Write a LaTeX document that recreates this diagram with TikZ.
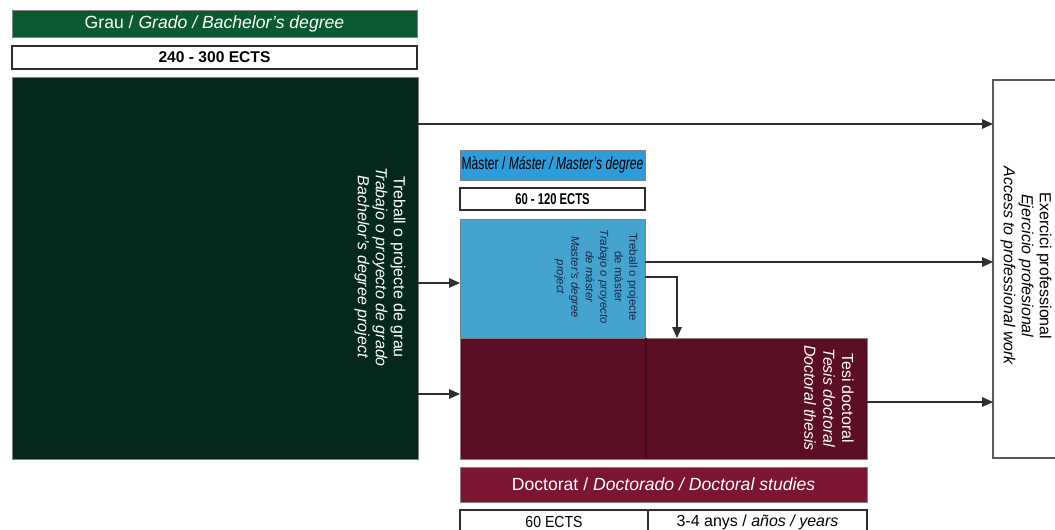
\documentclass[tikz,border=0pt]{standalone}
\usepackage{fontspec}
\setmainfont{Liberation Sans}
\usetikzlibrary{arrows.meta,fit}
\definecolor{grauhd}{HTML}{0C5A32}
\definecolor{graubk}{HTML}{04281A}
\definecolor{masthd}{HTML}{2C9CDB}
\definecolor{mastbk}{HTML}{45A4CF}
\definecolor{docbk}{HTML}{5B0E24}
\definecolor{dochd}{HTML}{7C1532}
\definecolor{ink}{HTML}{2E2E2E}
\definecolor{navy}{HTML}{1B2547}
\begin{document}
\begin{tikzpicture}[x=0.5pt,y=-0.5pt,
    blk/.style={inner sep=0pt,outer sep=0pt,draw=ink!60,line width=0.4pt},
    cred/.style={blk,draw=ink,line width=0.6pt,fill=white},
    hdtxt/.style={text=white,inner sep=0pt,font=\fontsize{8.8}{10}\selectfont},
    credtxt/.style={inner sep=0pt,font=\fontsize{7.8}{9}\selectfont\bfseries},
    lab/.style={text=white,align=center,rotate=-90,font=\fontsize{8}{9}\selectfont},
    arr/.style={draw=ink,line width=0.6pt,-{Triangle[length=5.5pt,width=4.8pt]}}]
  \clip (0,0) rectangle (1055,530);
  \fill[white] (0,0) rectangle (1055,530);
  % grau
  \node[blk,fill=grauhd,fit={(12,10)(417,37)}] (grauhd) {};
  \node[hdtxt] (grauhdt) at (grauhd) {Grau / \textit{Grado / Bachelor's degree}};
  \node[cred,fit={(12,46)(417,69)}] (graucr) {};
  \node[credtxt] (graucrt) at (graucr) {240 - 300 ECTS};
  \node[blk,fill=graubk,fit={(12,77)(418,459)}] (graubk) {};
  \node[lab] (graulab) at (380,267) {Treball o projecte de grau\\\textit{Trabajo o proyecto de grado}\\\textit{Bachelor's degree project}};
  % master
  \node[blk,fill=masthd,fit={(460,150)(645,180)}] (masthd) {};
  \node[hdtxt,text=black] (masthdt) at (masthd) {\scalebox{0.69}[1]{Màster / \textit{Máster / Master's degree}}};
  \node[cred,fit={(460,188)(645,210)}] (mastcr) {};
  \node[credtxt] (mastcrt) at (mastcr) {\scalebox{0.72}[1]{60 - 120 ECTS}};
  \node[blk,fill=mastbk,fit={(460,219)(645,338)}] (mastbk) {};
  \node[lab,text=navy,font=\fontsize{5.7}{7.25}\selectfont] (mastlab) at (596,277) {Treball o projecte\\de màster\\\textit{Trabajo o proyecto}\\\textit{de máster}\\\textit{Master's degree}\\\textit{project}};
  % doctorat
  \node[blk,fill=docbk,fit={(460,338)(867,459)}] (docbk) {};
  \draw[docbk!70!black,line width=0.6pt] (646,338) -- (646,459);
  \node[lab,font=\fontsize{8}{9.4}\selectfont] (doclab) at (829,398) {Tesi doctoral\\\textit{Tesis doctoral}\\\textit{Doctoral thesis}};
  \node[blk,fill=dochd,fit={(460,467)(867,502)}] (dochd) {};
  \node[hdtxt] (dochdt) at (dochd) {Doctorat / \textit{Doctorado / Doctoral studies}};
  \node[cred,fit={(460,510)(648,534)}] (doccr) {};
  \node[credtxt,font=\fontsize{8}{9}\selectfont] (doccrt) at (doccr) {\scalebox{0.88}[1]{60 ECTS}};
  \node[cred,fit={(648,510)(867,534)}] (docyr) {};
  \node[credtxt,font=\fontsize{8}{9}\selectfont] (docyrt) at (docyr) {3-4 anys / \textit{años / years}};
  % exercici
  \node[blk,draw=ink!80,line width=0.6pt,fill=white,fit={(993,80)(1070,458)}] (exer) {};
  \node[lab,text=black] (exerlab) at (1026,266) {Exercici professional\\\textit{Ejercicio profesional}\\\textit{Access to professional work}};
  % connectors
  \foreach \a/\b/\yy in {graubk/exer/124, graubk/mastbk/283, graubk/docbk/394, mastbk/exer/262, docbk/exer/402}
    \draw[arr] (\a.east |- 0,\yy) -- (\b.west |- 0,\yy);
  \draw[arr] (mastbk.east |- 0,277) -| (docbk.north -| 677,0);
\end{tikzpicture}
\end{document}
